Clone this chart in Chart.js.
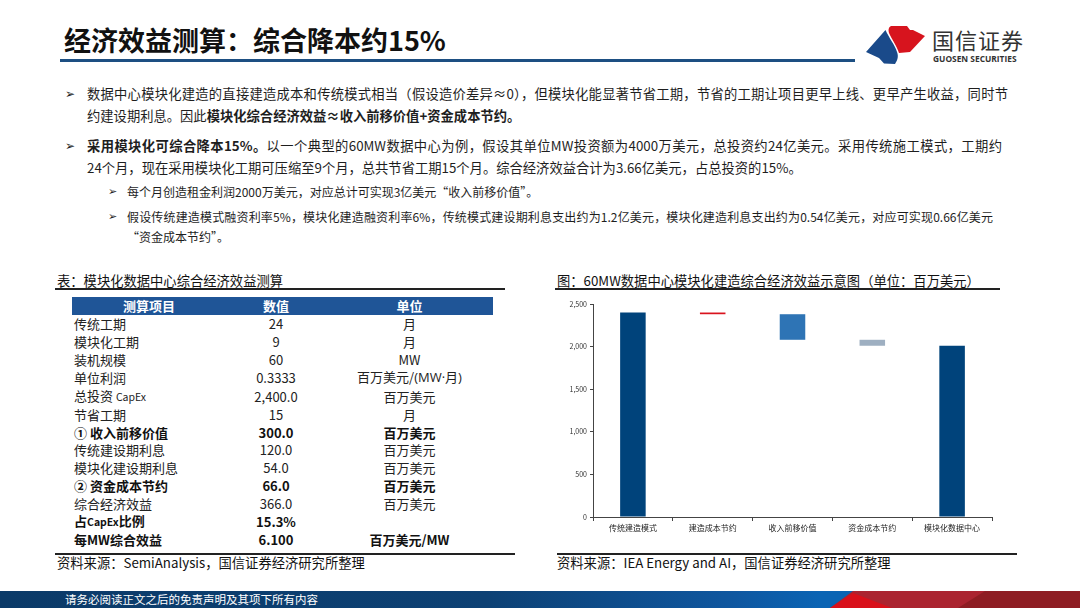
<!DOCTYPE html>
<html lang="zh-CN">
<head>
<meta charset="utf-8">
<title>经济效益测算：综合降本约15%</title>
<script src="https://cdn.jsdelivr.net/npm/chart.js@4.4.1/dist/chart.umd.min.js"></script>
<style>
html, body { margin: 0; padding: 0; }
body {
    width: 1080px; height: 608px; position: relative; overflow: hidden;
    background: #fff; color: #1e1e1e;
    font-family: "Noto Sans CJK SC", "Noto Sans", sans-serif;
}
.abs { position: absolute; white-space: nowrap; }
.title { left: 64px; top: 23px; font-size: 27px; line-height: 34px; font-weight: bold; color: #111; }
.title-rule { left: 60px; top: 59px; width: 795px; height: 3px; background: #1d4f82; }
.txt { font-size: 13.3px; line-height: 18px; }
.sub { font-size: 12px; line-height: 16px; }
.just { text-align: justify; text-align-last: justify; white-space: normal; }
.mark { font-family: "DejaVu Sans", sans-serif; font-size: 12px; line-height: 18px; color: #222; }
.mark.s { font-size: 11px; line-height: 16px; }
.cap { font-size: 13.3px; line-height: 18px; color: #111; }
.rule { height: 1.5px; background: #222; }
table.calc {
    position: absolute; left: 72px; top: 297px; width: 421px;
    border-collapse: collapse; table-layout: fixed; font-size: 13px; color: #222;
}
table.calc td, table.calc th { padding: 0; white-space: nowrap; }
table.calc th { height: 18px; line-height: 18px; background: #1f5597; color: #fff; font-weight: bold; }
table.calc td { height: 17.75px; line-height: 17.75px; }
table.calc td:first-child { padding-left: 2px; }
table.calc td:nth-child(2), table.calc td:nth-child(3) { text-align: center; }
table.calc tr.b td { font-weight: bold; color: #111; }
.small { font-size: 10.5px; }
.lat { font-family: "Open Sans", "Noto Sans", sans-serif; }
#chartBox { position: absolute; left: 555px; top: 292px; width: 445px; height: 250px; }
.footer { left: 0; top: 591px; width: 1080px; height: 17px; overflow: hidden;
    background: linear-gradient(90deg, #0b3a68 0%, #0d4174 45%, #0f57a0 68%, #0a64b4 76%, #0a64b4 100%); }
.footer-text { left: 65px; top: 591px; font-size: 11.5px; line-height: 17px; color: #fff; }
</style>
</head>
<body>

<div class="abs title">经济效益测算：综合降本约15%</div>
<div class="abs title-rule"></div>

<svg class="abs" style="left:852px;top:20px" width="80" height="50" viewBox="852 20 80 50">
    <path d="M885.5 30 C889 38 895 45 897 52 C899 57 897 61 895 64 L884 63.5 L879 58 L866 52 Z" fill="#1a4a8a"/>
    <path d="M891 26 L907 26 L910 30 L913 30 L925 36 L910 52 L899 53 C897 46 892 40 889 33 C888 29 889 27 891 26 Z" fill="#d7141e"/>
</svg>
<div class="abs" style="left:932px;top:28px;font-size:22px;line-height:22px;color:#333;letter-spacing:1px;">国信证券</div>
<div class="abs" style="left:933px;top:54px;font-size:8.4px;line-height:9px;color:#333;font-weight:bold;font-family:'Open Sans',sans-serif;">GUOSEN SECURITIES</div>

<!-- bullets -->
<div class="abs mark" style="left:65px;top:85px;">➢</div>
<div class="abs txt just" style="left:87px;top:85px;width:921px;">数据中心模块化建造的直接建造成本和传统模式相当（假设造价差异≈0），但模块化能显著节省工期，节省的工期让项目更早上线、更早产生收益，同时节</div>
<div class="abs txt" style="left:87px;top:107px;">约建设期利息。因此<b>模块化综合经济效益≈收入前移价值+资金成本节约。</b></div>

<div class="abs mark" style="left:65px;top:137px;">➢</div>
<div class="abs txt just" style="left:87px;top:137px;width:915px;"><b>采用模块化可综合降本15%。</b>以一个典型的60MW数据中心为例，假设其单位MW投资额为4000万美元，总投资约24亿美元。采用传统施工模式，工期约</div>
<div class="abs txt" style="left:87px;top:159px;">24个月，现在采用模块化工期可压缩至9个月，总共节省工期15个月。综合经济效益合计为3.66亿美元，占总投资的15%。</div>

<div class="abs mark s" style="left:108px;top:184px;">➢</div>
<div class="abs sub" style="left:127px;top:184px;">每个月创造租金利润2000万美元，对应总计可实现3亿美元“收入前移价值”。</div>
<div class="abs mark s" style="left:108px;top:209px;">➢</div>
<div class="abs sub just" style="left:127px;top:209px;width:866px;">假设传统建造模式融资利率5%，模块化建造融资利率6%，传统模式建设期利息支出约为1.2亿美元，模块化建造利息支出约为0.54亿美元，对应可实现0.66亿美元</div>
<div class="abs sub" style="left:127px;top:229px;">“资金成本节约”。</div>

<!-- left table -->
<div class="abs cap" style="left:57px;top:272px;">表：模块化数据中心综合经济效益测算</div>
<div class="abs rule" style="left:55px;top:288px;width:450px;"></div>
<table class="calc">
    <colgroup><col style="width:154px"><col style="width:100px"><col style="width:167px"></colgroup>
    <tr><th>测算项目</th><th>数值</th><th>单位</th></tr>
    <tr><td>传统工期</td><td>24</td><td>月</td></tr>
    <tr><td>模块化工期</td><td>9</td><td>月</td></tr>
    <tr><td>装机规模</td><td>60</td><td>MW</td></tr>
    <tr><td>单位利润</td><td>0.3333</td><td>百万美元/<span class="lat">(MW·</span>月<span class="lat">)</span></td></tr>
    <tr><td>总投资 <span class="small">CapEx</span></td><td>2,400.0</td><td>百万美元</td></tr>
    <tr><td>节省工期</td><td>15</td><td>月</td></tr>
    <tr class="b"><td>① 收入前移价值</td><td>300.0</td><td>百万美元</td></tr>
    <tr><td>传统建设期利息</td><td>120.0</td><td>百万美元</td></tr>
    <tr><td>模块化建设期利息</td><td>54.0</td><td>百万美元</td></tr>
    <tr class="b"><td>② 资金成本节约</td><td>66.0</td><td>百万美元</td></tr>
    <tr><td>综合经济效益</td><td>366.0</td><td>百万美元</td></tr>
    <tr class="b"><td>占<span class="small">CapEx</span>比例</td><td>15.3%</td><td></td></tr>
    <tr class="b"><td>每MW综合效益</td><td>6.100</td><td>百万美元/MW</td></tr>
</table>
<div class="abs rule" style="left:55px;top:553px;width:460px;"></div>
<div class="abs cap" style="left:57px;top:554px;">资料来源：SemiAnalysis，国信证券经济研究所整理</div>

<!-- right chart -->
<div class="abs cap" style="left:557px;top:272px;">图：60MW数据中心模块化建造综合经济效益示意图（单位：百万美元）</div>
<div class="abs rule" style="left:555px;top:288px;width:445px;"></div>
<div id="chartBox"><canvas id="waterfall" width="445" height="250"></canvas></div>
<div class="abs rule" style="left:557px;top:553px;width:460px;"></div>
<div class="abs cap" style="left:557px;top:554px;">资料来源：IEA Energy and AI，国信证券经济研究所整理</div>

<!-- footer -->
<div class="abs footer">
    <svg width="1080" height="17" viewBox="0 591 1080 17" style="position:absolute;left:0;top:0">
        <polygon points="853,591 1080,591 1080,608 830,608" fill="#ab2430"/>
        <polygon points="830,608 853,593 892,608" fill="#d9101a"/>
        <polygon points="985,591 1080,591 1080,608 958,608" fill="#8e1d23"/>
    </svg>
</div>
<div class="abs footer-text">请务必阅读正文之后的免责声明及其项下所有内容</div>

<script>
const FONT = '"Noto Sans CJK SC", "Noto Sans", sans-serif';

// waterfall steps (百万美元)
const categories = ['传统建造模式', '建造成本节约', '收入前移价值', '资金成本节约', '模块化数据中心'];
const barLow = [0, 2380, 2080, 2010, 0];
const barHigh = [2400, 2400, 2380, 2080, 2010];
const barColors = ['#00437b', '#d9131e', '#2e74b5', '#9eafc1', '#00437b'];
const yTicks = [0, 500, 1000, 1500, 2000, 2500];

document.addEventListener('DOMContentLoaded', function() {
    const ctx = document.getElementById('waterfall').getContext('2d');
    new Chart(ctx, {
        type: 'bar',
        data: {
            labels: categories,
            datasets: [{
                data: categories.map((c, i) => [barLow[i], barHigh[i]]),
                backgroundColor: barColors,
                borderWidth: 0,
                barPercentage: 0.32,
                categoryPercentage: 1
            }]
        },
        options: {
            responsive: false,
            animation: false,
            layout: { padding: { top: 12, right: 8, bottom: 0, left: 0 } },
            plugins: {
                legend: { display: false },
                tooltip: { enabled: false }
            },
            scales: {
                x: {
                    grid: { drawOnChartArea: false, drawTicks: true, tickLength: 4, color: '#444', offset: true },
                    border: { display: true, color: '#444', width: 1 },
                    ticks: { color: '#222', font: { size: 8, family: FONT }, padding: 2, maxRotation: 0 },
                    afterFit(scale) { scale.height = 25; }
                },
                y: {
                    min: yTicks[0],
                    max: yTicks[yTicks.length - 1],
                    grid: { drawOnChartArea: false, drawTicks: true, tickLength: 3, color: '#444' },
                    border: { display: true, color: '#444', width: 1 },
                    ticks: {
                        color: '#333',
                        font: { size: 7, family: FONT },
                        padding: 3,
                        callback: v => v.toLocaleString('en-US')
                    },
                    afterBuildTicks(scale) { scale.ticks = yTicks.map(v => ({ value: v })); },
                    afterFit(scale) { scale.width = 38; }
                }
            }
        }
    });
});
</script>
</body>
</html>
